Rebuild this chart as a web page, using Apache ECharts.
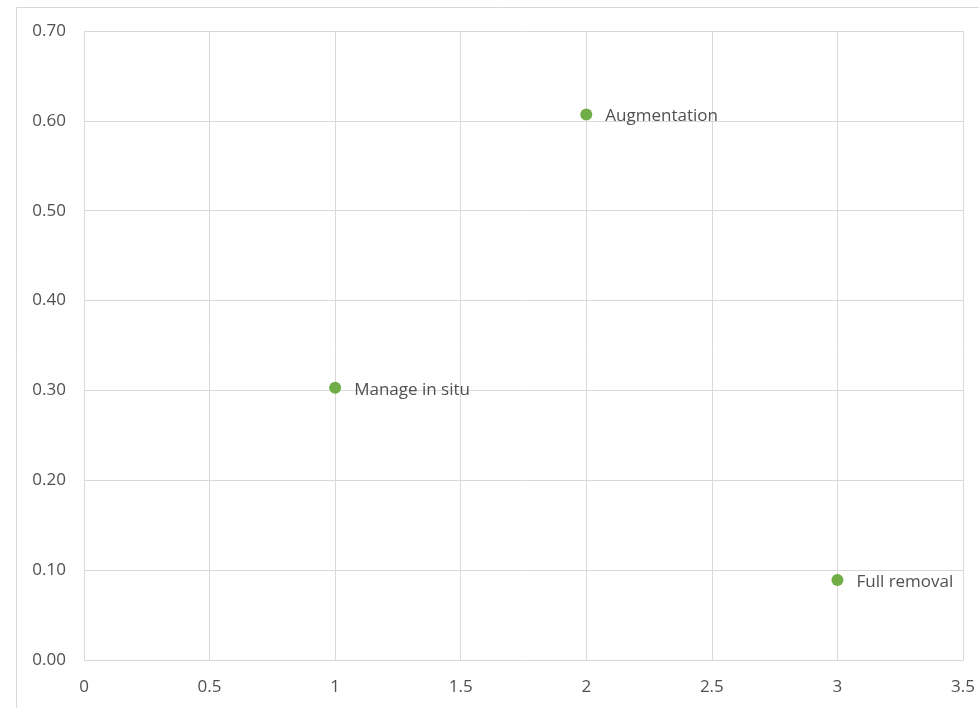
<!DOCTYPE html>
<html>
<head>
<meta charset="utf-8">
<script src="https://cdn.jsdelivr.net/npm/echarts@6/dist/echarts.min.js"></script>
<style>
  html, body { margin: 0; padding: 0; background: #ffffff; }
  #chart { width: 979px; height: 708px; }
</style>
</head>
<body>
<div id="chart"></div>
<script>
// Management options and their scores
const optionNames = ['Manage in situ', 'Augmentation', 'Full removal'];
const optionX = [1, 2, 3];
const optionY = [0.303, 0.607, 0.089];

const xTicks = [0, 0.5, 1, 1.5, 2, 2.5, 3, 3.5];
const yTicks = [0, 0.1, 0.2, 0.3, 0.4, 0.5, 0.6, 0.7];

const FONT = '"Open Sans", "Noto Sans", sans-serif';
const GRID_COLOR = '#d9d9d9';
const TEXT_COLOR = '#505050';

const chart = echarts.init(document.getElementById('chart'), null, { renderer: 'canvas' });

chart.setOption({
  animation: false,
  backgroundColor: '#ffffff',
  graphic: [{
    type: 'rect',
    shape: { x: 16.5, y: 7.5, width: 1200, height: 1200 },
    style: { fill: 'none', stroke: GRID_COLOR, lineWidth: 1 },
    silent: true,
    z: -1
  }],
  grid: { left: 84, right: 16, top: 31, bottom: 48, containLabel: false },
  xAxis: {
    type: 'value',
    min: xTicks[0],
    max: xTicks[xTicks.length - 1],
    interval: 0.5,
    axisLine: { show: true, lineStyle: { color: GRID_COLOR, width: 1 } },
    axisTick: { show: false },
    splitLine: { show: true, lineStyle: { color: GRID_COLOR, width: 1 } },
    axisLabel: {
      color: TEXT_COLOR, fontFamily: FONT, fontSize: 17, margin: 19,
      formatter: v => String(v)
    }
  },
  yAxis: {
    type: 'value',
    min: yTicks[0],
    max: yTicks[yTicks.length - 1],
    interval: 0.1,
    axisLine: { show: true, lineStyle: { color: GRID_COLOR, width: 1 } },
    axisTick: { show: false },
    splitLine: { show: true, lineStyle: { color: GRID_COLOR, width: 1 } },
    axisLabel: {
      color: TEXT_COLOR, fontFamily: FONT, fontSize: 17, margin: 18,
      formatter: v => v.toFixed(2)
    }
  },
  series: [{
    type: 'scatter',
    symbol: 'circle',
    symbolSize: 12,
    itemStyle: { color: '#70ad47', opacity: 1 },
    data: optionX.map((x, i) => ({ value: [x, optionY[i]], name: optionNames[i] })),
    label: {
      show: true,
      position: 'right',
      distance: 13,
      offset: [0, 2],
      formatter: p => p.name,
      color: TEXT_COLOR,
      fontFamily: FONT,
      fontSize: 17
    }
  }]
});
</script>
</body>
</html>
